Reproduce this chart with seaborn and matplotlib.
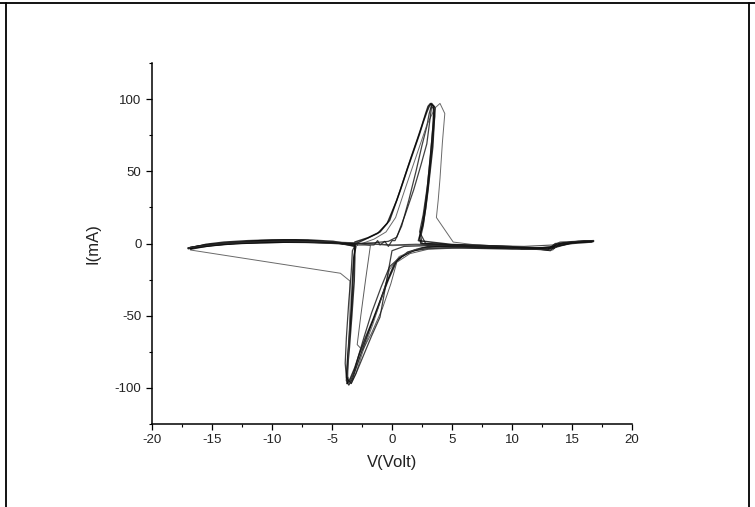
import matplotlib
matplotlib.use("Agg")
import matplotlib.pyplot as plt
from matplotlib.lines import Line2D
from matplotlib.ticker import MultipleLocator
import seaborn as sns
import pandas as pd

# ---- data: (V in Volt, I in mA) per sweep cycle ----
cycle1 = [(-3.1, 1), (-2.0, 4), (-1.0, 8), (-0.2, 16), (0.7, 37), (1.3, 52), (1.8, 64),
          (2.3, 76), (2.6, 84), (2.9, 91), (3.1, 95), (3.3, 97), (3.6, 94), (3.5, 82),
          (3.4, 67), (3.2, 52), (3.0, 37), (2.8, 24), (2.6, 14), (2.3, 5), (2.2, 2),
          (3.2, 1), (5.0, -0.7), (7.3, -1.2), (10.0, -2.5), (12.0, -3.5), (13.2, -4.9),
          (13.7, -0.7), (15.4, 1), (16.8, 1.5), (16.6, 1), (15.0, 0), (13.5, -2),
          (12.0, -3.5), (9.0, -3), (6.0, -2.5), (4.0, -2), (2.5, -3), (1.3, -6),
          (0.4, -12), (-0.3, -25), (-1.0, -40), (-1.6, -53), (-2.2, -65), (-2.7, -76),
          (-3.1, -86), (-3.5, -94), (-3.75, -97), (-3.7, -96), (-3.75, -90), (-3.55, -72),
          (-3.35, -50), (-3.15, -26), (-3.1, -10), (-3.1, -1), (-4.9, 1.5), (-7.0, 2.5),
          (-9.1, 2.5), (-11.0, 2), (-13.3, 0.2), (-15.2, -0.7), (-16.2, -1.8),
          (-17.0, -3.5), (-16.5, -3), (-15.0, -1.5), (-13.0, 0), (-11.0, 0.8),
          (-8.0, 1), (-5.0, 0.5), (-3.1, 0)]

cycle2 = [(-3.0, 0), (-2.2, 3), (-1.2, 7), (-0.4, 14), (0.4, 30), (1.0, 45), (1.6, 60),
          (2.1, 72), (2.5, 82), (2.8, 90), (3.0, 95), (3.2, 97), (3.45, 95), (3.45, 85),
          (3.3, 70), (3.1, 52), (2.9, 35), (2.7, 22), (2.5, 12), (2.3, 4), (2.4, 0),
          (4.0, -0.5), (6.0, -1.5), (8.0, -2), (10.0, -3), (12.0, -4), (13.0, -4.5),
          (13.5, -1), (14.5, 0.5), (16.0, 1.5), (16.8, 2), (15.5, 1.5), (14.0, 0),
          (13.2, -3), (11.0, -4), (8.0, -3.5), (5.0, -3), (3.0, -3.5), (1.8, -5),
          (0.8, -9), (0.2, -14), (-0.5, -28), (-1.2, -45), (-1.8, -58), (-2.4, -72),
          (-2.9, -84), (-3.3, -94), (-3.6, -98), (-3.8, -95), (-3.75, -85), (-3.6, -68),
          (-3.4, -45), (-3.3, -25), (-3.2, -10), (-3.0, -2), (-4.5, 0.5), (-6.0, 1.5),
          (-8.0, 2.5), (-10.0, 2.5), (-12.0, 2), (-14.0, 1), (-15.5, -0.5),
          (-16.7, -3), (-16.8, -4), (-15.5, -2), (-14.0, -0.5), (-11.0, 0.5),
          (-8.0, 1), (-5.0, 0.5), (-3.0, 0)]

cycle3 = [(-2.9, -1), (-2.0, -1), (-1.5, -1), (-1.2, 2), (-1.0, -1), (-0.6, 1.5),
          (-0.3, -2), (0.0, 2), (0.25, 2), (0.8, 12), (1.4, 30), (2.0, 50), (2.5, 68),
          (2.9, 81), (3.1, 90), (3.3, 96), (3.5, 95), (3.55, 88), (3.4, 72), (3.2, 55),
          (3.0, 38), (2.8, 24), (2.6, 12), (2.4, 5), (2.5, 0), (4.0, -1), (7.0, -1.5),
          (10.0, -2.5), (13.0, -4), (13.6, 0), (15.4, 1), (16.6, 1.5), (15.0, 0.5),
          (13.5, -2.5), (10.0, -3.5), (6.0, -2.5), (3.0, -2), (1.5, -6), (0.6, -10),
          (-0.2, -16), (-0.9, -30), (-1.7, -48), (-2.3, -64), (-2.8, -78), (-3.2, -90),
          (-3.5, -96), (-3.7, -94), (-3.7, -80), (-3.5, -60), (-3.3, -35), (-3.2, -15),
          (-3.1, -2), (-5.0, 1), (-7.0, 2), (-9.0, 2), (-12.0, 1.5), (-14.0, 0.5),
          (-16.0, -1.5), (-17.0, -3), (-16.0, -2), (-13.0, 0), (-9.0, 0.8),
          (-5.0, 0.5), (-2.9, -1)]

cycle4 = [(-16.8, -4.5), (-4.3, -20.6), (-3.5, -26), (-3.5, -45), (-3.6, -70),
          (-3.7, -92), (-3.4, -97), (-3.0, -90), (-2.4, -74), (-1.6, -56), (-0.8, -36),
          (-0.2, -18), (0.6, -9), (2.0, -4), (5.0, -2.5), (8.0, -2), (10.0, -2.5),
          (8.0, -2), (5.0, -1.5), (2.0, -1), (0.0, -1.5), (-1.5, -0.5), (-2.5, 0),
          (-1.5, 3), (-0.5, 8), (0.3, 18), (1.1, 38), (2.0, 60), (2.9, 82), (3.6, 94),
          (4.0, 97), (4.4, 90), (4.2, 70), (4.0, 45), (3.85, 30), (3.7, 18), (5.1, 1),
          (7.0, -1), (10.0, -2)]

cycle5 = [(-17.0, -3), (-14.0, 0), (-10.0, 1.5), (-6.0, 1.5), (-3.0, 0.5),
          (-1.8, -1.4), (-2.2, -25), (-2.6, -50), (-2.9, -70), (-2.45, -74),
          (-1.7, -62), (-0.8, -45), (-0.1, -28), (0.4, -13), (1.5, -7), (3.0, -4),
          (6.0, -3), (9.0, -3), (12.0, -4), (13.4, -4.5), (13.8, -0.5), (15.5, 1.5),
          (16.8, 2)]

cycle6 = [(16.7, 1.5), (15.0, 0.5), (13.3, -3.5), (10.0, -3), (6.0, -2), (3.0, -1.5),
          (1.0, -2), (0.0, -5), (-0.5, -28), (-1.0, -51), (-1.7, -64), (-2.4, -78),
          (-3.0, -90), (-3.4, -97), (-3.8, -93), (-3.9, -83), (-3.8, -65), (-3.6, -40),
          (-3.4, -20), (-3.3, -5), (-3.0, 0), (-1.5, 0.5), (-0.3, 1.5), (0.4, 4.4),
          (1.1, 20), (1.8, 37), (2.4, 54), (2.9, 69), (3.15, 85), (3.3, 95), (3.5, 93),
          (3.4, 80), (3.2, 60), (2.95, 40), (2.6, 20), (2.3, 8), (2.8, 0), (5.0, -1),
          (8.0, -1.5), (11.0, -2.5), (13.5, -3.5), (14.0, 0), (16.7, 1.5)]

cycle7 = [(16.5, 2), (14.0, 1), (13.5, -1), (11.0, -2), (8.0, -1.5), (5.0, -1),
          (2.0, -0.5), (0.0, -1), (-2.0, 0), (-4.0, -0.5), (-7.0, 1), (-10.0, 1.5),
          (-13.0, 1), (-15.0, -0.5), (-16.8, -2.5)]

cycles = {"c1": cycle1, "c2": cycle2, "c3": cycle3, "c4": cycle4,
          "c5": cycle5, "c6": cycle6, "c7": cycle7}
styles = {"c1": (1.1, "#000000"), "c2": (1.0, "#000000"), "c3": (0.9, "#111111"),
          "c4": (0.7, "#444444"), "c5": (0.7, "#333333"), "c6": (0.9, "#111111"),
          "c7": (0.8, "#222222")}

x_ticks = [-20, -15, -10, -5, 0, 5, 10, 15, 20]
y_ticks = [-100, -50, 0, 50, 100]

rows = []
for name, pts in cycles.items():
    for k, (v, i) in enumerate(pts):
        rows.append({"cycle": name, "step": k, "V": v, "I": i})
df = pd.DataFrame(rows)

sns.set_theme(style="ticks")
plt.rcParams["font.family"] = ["Liberation Sans", "DejaVu Sans"]
plt.rcParams["axes.unicode_minus"] = False

fig = plt.figure(figsize=(7.55, 5.07), dpi=100)
ax = fig.add_axes([152 / 755, 83 / 507, 480 / 755, 361 / 507])

for name in cycles:
    lw, col = styles[name]
    sub = df[df["cycle"] == name]
    sns.lineplot(data=sub, x="V", y="I", sort=False, estimator=None,
                 color=col, linewidth=lw, alpha=0.8, ax=ax)

ax.set_xlim(-20, 20)
ax.set_ylim(-125, 125)
ax.set_xticks(x_ticks)
ax.set_yticks(y_ticks)
ax.set_xticklabels([str(t) for t in x_ticks])
ax.set_yticklabels([str(t) for t in y_ticks])
ax.xaxis.set_minor_locator(MultipleLocator(2.5))
ax.yaxis.set_minor_locator(MultipleLocator(25))
ax.tick_params(which="major", direction="out", length=4.5, width=0.9,
               labelsize=9.5, color="black", labelcolor="#222222", pad=3)
ax.tick_params(which="minor", direction="out", length=2.5, width=0.8, color="black")
for s in ["top", "right"]:
    ax.spines[s].set_visible(False)
for s in ["left", "bottom"]:
    ax.spines[s].set_linewidth(1.1)
    ax.spines[s].set_color("black")
ax.set_xlabel("V(Volt)", fontsize=12, color="#222222", labelpad=6)
ax.set_ylabel("I(mA)", fontsize=12, color="#222222", labelpad=10)
ax.set_facecolor("white")

# figure frame
fig.add_artist(Line2D([0, 1], [1 - 3 / 507, 1 - 3 / 507], transform=fig.transFigure,
                      color="black", linewidth=1.3))
fig.add_artist(Line2D([6 / 755, 6 / 755], [0, 1 - 3 / 507], transform=fig.transFigure,
                      color="black", linewidth=1.3))
fig.add_artist(Line2D([749 / 755, 749 / 755], [0, 1 - 3 / 507], transform=fig.transFigure,
                      color="black", linewidth=1.3))

fig.savefig("out.png", dpi=100, facecolor="white")
